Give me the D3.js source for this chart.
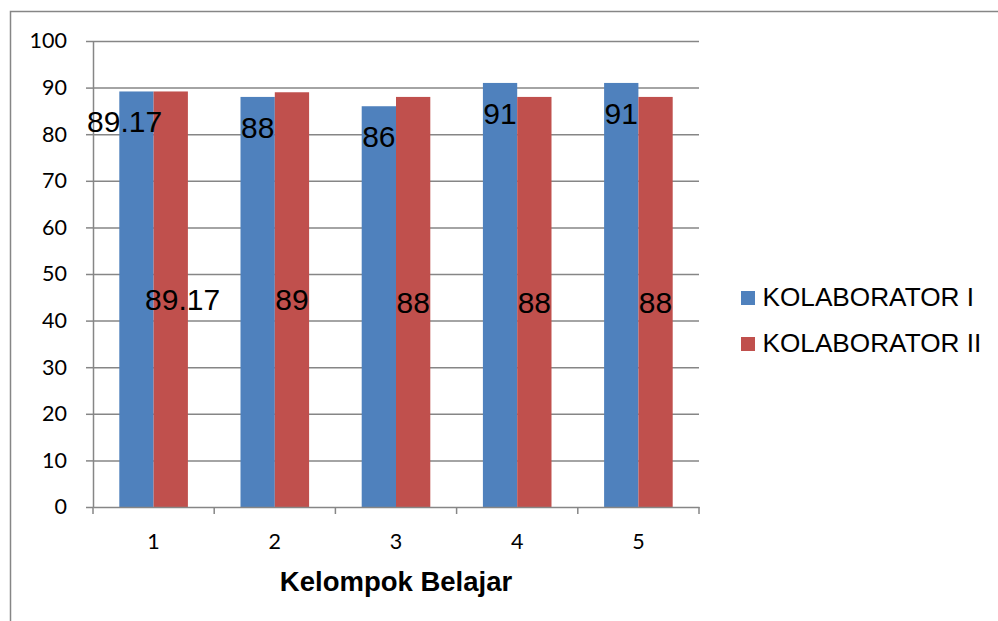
<!DOCTYPE html>
<html>
<head>
<meta charset="utf-8">
<script src="https://cdn.jsdelivr.net/npm/d3@7"></script>
<style>
  html, body { margin: 0; padding: 0; background: #fff; }
  svg { display: block; }
</style>
</head>
<body>
<svg id="chart" width="998" height="621"></svg>
<script>
// Nilai rata-rata per kelompok belajar dari dua kolaborator
const categories = ["1", "2", "3", "4", "5"];
const seriesNames = ["KOLABORATOR I", "KOLABORATOR II"];
const kolaborator1 = [89.17, 88, 86, 91, 91];
const kolaborator2 = [89.17, 89, 88, 88, 88];
const yTicks = [0, 10, 20, 30, 40, 50, 60, 70, 80, 90, 100];
const xTitle = "Kelompok Belajar";

const colors = ["#4F81BD", "#C0504D"];
const gridColor = "#868686";

const svg = d3.select("#chart");

// outer chart frame
svg.append("rect")
  .attr("x", 10.5).attr("y", 11.5)
  .attr("width", 1100).attr("height", 800)
  .attr("fill", "none").attr("stroke", gridColor).attr("stroke-width", 1.5);

const plot = { left: 93, right: 699, top: 41, bottom: 507 };

const y = d3.scaleLinear().domain([0, 100]).range([plot.bottom, plot.top]);
const x0 = d3.scaleBand().domain(categories).range([plot.left, plot.right]).padding(0);
const groupW = x0.bandwidth() * 0.566;
const x1 = d3.scaleBand().domain(seriesNames).range([0, groupW]).padding(0);
const groupOffset = (x0.bandwidth() - groupW) / 2;

// horizontal gridlines
const grid = svg.append("g")
  .attr("transform", `translate(${plot.left},0)`)
  .call(d3.axisLeft(y).tickValues(yTicks.slice(1)).tickSize(-(plot.right - plot.left)).tickFormat(""));
grid.select(".domain").remove();
grid.selectAll(".tick line").attr("stroke", gridColor).attr("stroke-width", 1.5);

// y axis with outward tick marks and labels
const yAxis = svg.append("g")
  .attr("transform", `translate(${plot.left},0)`)
  .call(d3.axisLeft(y).tickValues(yTicks).tickSize(7).tickSizeOuter(0).tickPadding(19));
yAxis.select(".domain").attr("stroke", gridColor).attr("stroke-width", 1.5);
yAxis.selectAll(".tick line").attr("stroke", gridColor).attr("stroke-width", 1.5);
yAxis.selectAll(".tick text")
  .attr("font-family", "Lato, 'Open Sans', sans-serif")
  .attr("font-size", 21.5).attr("fill", "#000");

// bars
const rows = categories.map((c, i) => ({ cat: c, vals: [kolaborator1[i], kolaborator2[i]] }));
const groups = svg.append("g").selectAll("g")
  .data(rows).join("g")
  .attr("transform", d => `translate(${x0(d.cat) + groupOffset},0)`);

groups.selectAll("rect")
  .data(d => d.vals.map((v, s) => ({ v, s })))
  .join("rect")
  .attr("x", d => x1(seriesNames[d.s]))
  .attr("y", d => y(d.v))
  .attr("width", x1.bandwidth())
  .attr("height", d => y(0) - y(d.v))
  .attr("fill", d => colors[d.s]);

// x axis: line, boundary ticks, centered labels
const xAxis = svg.append("g")
  .attr("transform", `translate(0,${plot.bottom})`)
  .call(d3.axisBottom(x0).tickSize(0).tickPadding(27));
xAxis.select(".domain").attr("stroke", gridColor).attr("stroke-width", 1.5);
xAxis.selectAll(".tick text")
  .attr("font-family", "Lato, 'Open Sans', sans-serif")
  .attr("font-size", 21.5).attr("fill", "#000");
const bounds = categories.map(c => x0(c)).concat([x0.range()[1]]);
xAxis.selectAll("line.bound")
  .data(bounds).join("line")
  .attr("class", "bound")
  .attr("x1", d => d).attr("x2", d => d)
  .attr("y1", 0).attr("y2", 7)
  .attr("stroke", gridColor).attr("stroke-width", 1.5);

// axis title
svg.append("text")
  .attr("x", (plot.left + plot.right) / 2)
  .attr("y", 590.5)
  .attr("text-anchor", "middle")
  .attr("font-family", "'Liberation Sans', Arial, sans-serif")
  .attr("font-weight", "bold")
  .attr("font-size", 27.5)
  .attr("fill", "#000")
  .text(xTitle);

// data labels: series I near the bar top, series II at the bar middle
const fmt = v => String(v);
const labels = svg.append("g")
  .attr("font-family", "'Liberation Sans', Arial, sans-serif")
  .attr("font-size", 30)
  .attr("fill", "#000")
  .attr("text-anchor", "middle");

rows.forEach(r => {
  r.vals.forEach((v, s) => {
    const cx = x0(r.cat) + groupOffset + x1(seriesNames[s]) + x1.bandwidth() / 2;
    const yy = s === 0 ? y(v) + 41 : (y(v) + y(0)) / 2 + 10.7;
    const t = labels.append("text").attr("x", cx).attr("y", yy).text(fmt(v));
    const w = t.node().getComputedTextLength();
    if (w > x1.bandwidth()) {
      // wide labels spread outward away from the neighbouring bar
      const shift = (w - x1.bandwidth()) * 0.29;
      t.attr("x", cx + (s === 0 ? -shift : shift));
    }
  });
});

// legend
const legend = svg.append("g").attr("transform", "translate(741,291)");
seriesNames.forEach((name, i) => {
  const g = legend.append("g").attr("transform", `translate(0,${i * 46})`);
  g.append("rect").attr("width", 14).attr("height", 14).attr("fill", colors[i]);
  g.append("text")
    .attr("x", 21.5).attr("y", 15.2)
    .attr("font-family", "'Liberation Sans', Arial, sans-serif")
    .attr("font-size", 26.2)
    .attr("fill", "#000")
    .text(name);
});
</script>
</body>
</html>
